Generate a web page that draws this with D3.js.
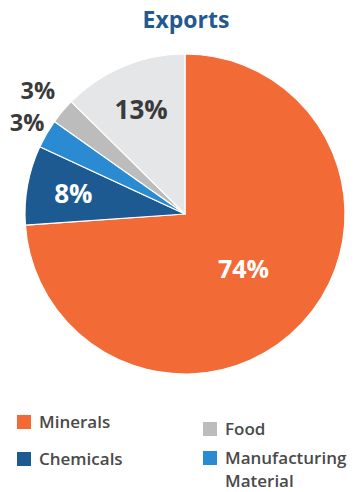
<!DOCTYPE html>
<html>
<head>
<meta charset="utf-8">
<script src="https://cdn.jsdelivr.net/npm/d3@7"></script>
<style>
  html, body { margin: 0; padding: 0; background: #fff; }
  svg { display: block; }
</style>
</head>
<body>
<svg id="chart" width="355" height="492"></svg>
<script>
// Data
const categories = ["Minerals", "Chemicals", "Manufacturing Material", "Food", "Other"];
const values = [73.9, 8.0, 2.9, 2.6, 12.6];
const colors = ["#f26a36", "#1d5a92", "#2a8bd3", "#bcbcbc", "#e4e6e7"];
const legendItems = ["Minerals", "Chemicals", "Food", "Manufacturing Material"];

const svg = d3.select("#chart");
const cx = 185, cy = 214, R = 160;

// Title
svg.append("text")
  .attr("x", 186).attr("y", 28)
  .attr("text-anchor", "middle")
  .attr("font-family", "'Open Sans', sans-serif")
  .attr("font-weight", 700)
  .attr("font-size", 23)
  .attr("fill", "#22598f")
  .text("Exports");

const data = categories.map((c, i) => ({ name: c, value: values[i], color: colors[i] }));
const pie = d3.pie().sort(null).value(d => d.value);
const arcs = pie(data);
const arc = d3.arc().innerRadius(0).outerRadius(R);

const g = svg.append("g").attr("transform", `translate(${cx},${cy})`);

g.selectAll("path.slice")
  .data(arcs)
  .join("path")
  .attr("class", "slice")
  .attr("d", arc)
  .attr("fill", d => d.data.color)
  .attr("stroke", "#fff")
  .attr("stroke-width", 1.2)
  .attr("stroke-linejoin", "round");

// Labels
const innerLabelArcBig = d3.arc().innerRadius(R * 0.5).outerRadius(R * 0.5);
const innerLabelArc = d3.arc().innerRadius(R * 0.71).outerRadius(R * 0.71);
const outerArcA = d3.arc().innerRadius(R * 1.14).outerRadius(R * 1.14);
const outerArcB = d3.arc().innerRadius(R * 1.2).outerRadius(R * 1.2);

let smallCount = 0;
g.selectAll("text.lbl")
  .data(arcs)
  .join("text")
  .attr("class", "lbl")
  .attr("transform", d => {
    const frac = d.data.value / 100;
    let c;
    if (frac > 0.5) c = innerLabelArcBig.centroid(d);
    else if (frac >= 0.05) c = innerLabelArc.centroid(d);
    else c = (smallCount++ === 0 ? outerArcA : outerArcB).centroid(d);
    return `translate(${c[0]},${c[1]})`;
  })
  .attr("text-anchor", "middle")
  .attr("dy", "0.36em")
  .attr("font-family", "'Open Sans', sans-serif")
  .attr("font-weight", 700)
  .attr("font-size", d => d.data.value > 50 ? 25 : (d.data.value < 5 ? 23.5 : 26))
  .attr("fill", d => {
    const i = categories.indexOf(d.data.name);
    return (i === 0 || i === 1) ? "#ffffff" : "#3a3a3a";
  })
  .text(d => Math.round(d.data.value) + "%");

// Legend
const legendPos = [
  { x: 17, y: 415 },
  { x: 17, y: 452 },
  { x: 203, y: 422 },
  { x: 203, y: 451 }
];
const colorOf = name => colors[categories.indexOf(name)];
const lg = svg.append("g");
legendItems.forEach((name, i) => {
  const p = legendPos[i];
  lg.append("rect")
    .attr("x", p.x).attr("y", p.y)
    .attr("width", 14).attr("height", 14)
    .attr("fill", colorOf(name));
  const t = lg.append("text")
    .attr("x", p.x + 22).attr("y", p.y + 13)
    .attr("font-family", "'Open Sans', sans-serif")
    .attr("font-weight", 600)
    .attr("font-size", 17)
    .attr("fill", "#4a4a4a");
  const words = name.split(" ");
  if (name === "Manufacturing Material") {
    t.append("tspan").attr("x", p.x + 22).text(words[0]);
    t.append("tspan").attr("x", p.x + 22).attr("dy", 23).text(words[1]);
  } else {
    t.text(name);
  }
});
</script>
</body>
</html>
